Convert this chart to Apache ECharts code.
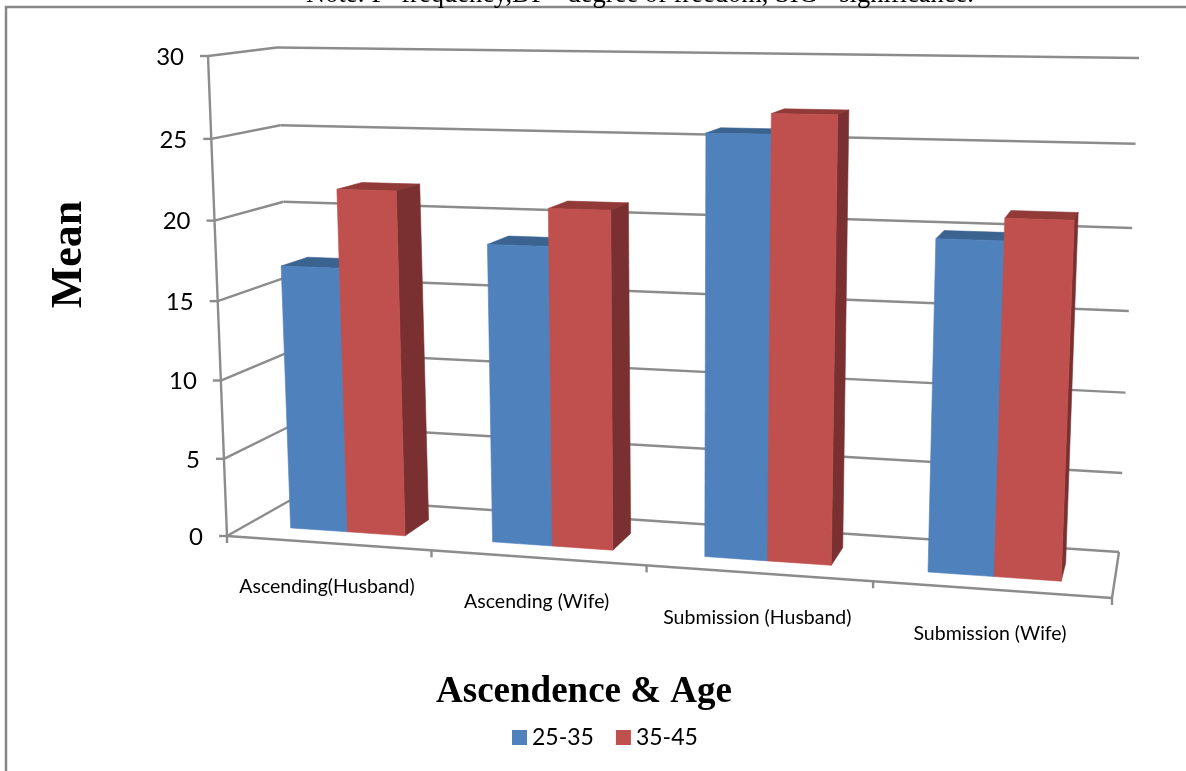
<!DOCTYPE html>
<html><head><meta charset="utf-8">
<style>html,body{margin:0;padding:0;background:#fff}#c{width:1186px;height:771px}</style>
<script src="https://cdn.jsdelivr.net/npm/echarts@6/dist/echarts.min.js"></script>
</head><body><div id="c"></div>
<script>
var categories = ['Ascending(Husband)', 'Ascending (Wife)', 'Submission (Husband)', 'Submission (Wife)'];
var seriesNames = ['25-35', '35-45'];
var values2535 = [16.9, 18.7, 25.7, 19.9];
var values3545 = [21.8, 21, 26.9, 21.2];
var yTicks = [0, 5, 10, 15, 20, 25, 30];
var yMax = 30;
var noteText = 'Note: F=frequency,DF= degree of freedom, SIG= significance.';

// picture-plane corners of the 3D chart box: front/back planes, left/right, bottom/top
var box = {
  fb: [[227, 536], [1112, 598], [1134, 66], [208, 56]],
  bb: [[296, 497], [1119, 552], [1139, 58], [277, 47.5]]
};
function homography(q) {
  var x0=q[0][0],y0=q[0][1],x1=q[1][0],y1=q[1][1],x2=q[2][0],y2=q[2][1],x3=q[3][0],y3=q[3][1];
  var dx1=x1-x2,dx2=x3-x2,sx=x0-x1+x2-x3,dy1=y1-y2,dy2=y3-y2,sy=y0-y1+y2-y3;
  var det=dx1*dy2-dx2*dy1;
  var g=(sx*dy2-dx2*sy)/det,h=(dx1*sy-sx*dy1)/det;
  return [x1-x0+g*x1,x3-x0+h*x3,x0,y1-y0+g*y1,y3-y0+h*y3,y0,g,h];
}
var HF=homography(box.fb),HB=homography(box.bb);
function ap(H,u,w){var d=H[6]*u+H[7]*w+1;return [(H[0]*u+H[1]*w+H[2])/d,(H[3]*u+H[4]*w+H[5])/d];}
// u: along category axis 0..1, d: depth 0 front..1 back, w: value 0..1
function P(u,d,w){
  var a=ap(HF,u,w),b=ap(HB,u,w);
  var t=d*1.0/(1+0.07*(1-d));
  return [a[0]+(b[0]-a[0])*t,a[1]+(b[1]-a[1])*t];
}
var gridRect={left:227,top:56,width:714,height:397};
var DEPTH0=0.30,DEPTH1=0.70,BARW=0.285,SHIFT=0.002,DRIFT=0.0012;
function fracs(api,x,v){
  var c=api.coord([x,v]);
  return [(c[0]-gridRect.left)/gridRect.width,(gridRect.top+gridRect.height-c[1])/gridRect.height];
}
function poly(pts,fill){return {type:'polygon',shape:{points:pts},style:{fill:fill,stroke:fill,lineWidth:0.6},silent:true};}
function barRenderer(idx,front,top,side){
  return function(params,api){
    var i=api.value(0),v=api.value(1);
    var f=fracs(api,i,v),b0=fracs(api,i,0);
    var cw=1/categories.length;
    var u0=f[0]+SHIFT-DRIFT*i+(idx-1)*BARW*cw;
    var u1=u0+BARW*cw;
    var w=f[1],z=b0[1];
    var d0=DEPTH0,d1=DEPTH1;
    return {type:'group',children:[
      poly([P(u0,d0,w),P(u1,d0,w),P(u1,d1,w),P(u0,d1,w)],top),
      poly([P(u1,d0,z),P(u1,d1,z),P(u1,d1,w),P(u1,d0,w)],side),
      poly([P(u0,d0,z),P(u1,d0,z),P(u1,d0,w),P(u0,d0,w)],front)
    ]};
  };
}
var GRID='#8c8c8c';
function line(a,b,lw){return {type:'line',shape:{x1:a[0],y1:a[1],x2:b[0],y2:b[1]},style:{stroke:GRID,lineWidth:lw||2.4},silent:true};}
function frameRenderer(params,api){
  var kids=[];
  yTicks.forEach(function(t){
    var w=fracs(api,0,t)[1];
    kids.push(line(P(0,0,w),P(0,1,w)));
    kids.push(line(P(0,1,w),P(1,1,w)));
    var a=P(0,0,w);
    kids.push(line(a,[a[0]-8,a[1]]));
    kids.push({type:'text',style:{text:String(t),x:a[0]-24,y:a[1]+1,align:'right',verticalAlign:'middle',font:'24px Lato',fill:'#000'},silent:true});
  });
  kids.push(line(P(0,0,0),P(0,0,1)));
  kids.push(line(P(0,0,0),P(1,0,0)));
  kids.push(line(P(1,0,0),P(1,1,0)));
  for(var k=0;k<=categories.length;k++){
    var a=P(k/categories.length,0,0);
    kids.push(line(a,[a[0],a[1]+7]));
  }
  return {type:'group',children:kids};
}
function labelRenderer(params,api){
  var i=api.value(0);
  var a=P((i+0.5)/categories.length,0,0);
  return {type:'text',style:{text:categories[i],x:a[0]-1,y:a[1]+44,align:'center',verticalAlign:'middle',font:'19.5px Lato',fill:'#000'},silent:true};
}
var chart=echarts.init(document.getElementById('c'));
var idxs=categories.map(function(c,i){return i;});
chart.setOption({
  animation:false,
  backgroundColor:'#fff',
  grid:gridRect,
  xAxis:{type:'category',data:categories,axisLine:{show:false},axisTick:{show:false},axisLabel:{show:false},splitLine:{show:false},
    name:'Ascendence & Age',nameLocation:'middle',nameGap:221,nameTextStyle:{fontFamily:'Liberation Serif',fontWeight:'bold',fontSize:37,color:'#000'}},
  yAxis:{type:'value',min:0,max:yMax,interval:5,axisLine:{show:false},axisTick:{show:false},axisLabel:{show:false},splitLine:{show:false},
    name:'Mean',nameLocation:'middle',nameGap:135,nameRotate:90,nameTextStyle:{fontFamily:'Liberation Serif',fontWeight:'bold',fontSize:44,color:'#000'}},
  legend:{data:seriesNames,left:507,top:721,itemWidth:15,itemHeight:15,itemGap:22,icon:'rect',textStyle:{fontFamily:'Lato',fontSize:23,color:'#000'}},
  graphic:[
    {type:'polyline',shape:{points:[[6,771],[6,7],[1186,7]]},style:{stroke:'#868686',lineWidth:2.5,fill:null},silent:true,z:0},
    {type:'text',style:{text:noteText,x:640,y:9,align:'center',verticalAlign:'bottom',font:'26.5px "Liberation Serif"',fill:'#000'},silent:true}
  ],
  series:[
    {type:'custom',name:'_frame',data:[[0]],encode:{x:0},renderItem:frameRenderer,z:1,silent:true},
    {type:'custom',name:seriesNames[0],color:'#4F81BD',data:values2535.map(function(v,i){return [i,v];}),renderItem:barRenderer(0,'#4F81BD','#3B6390','#3B6390'),z:2,silent:true},
    {type:'custom',name:seriesNames[1],color:'#C0504D',data:values3545.map(function(v,i){return [i,v];}),renderItem:barRenderer(1,'#C0504D','#913A38','#7A3030'),z:3,silent:true},
    {type:'custom',name:'_labels',data:idxs.map(function(i){return [i];}),renderItem:labelRenderer,z:4,silent:true}
  ]
});
</script></body></html>
